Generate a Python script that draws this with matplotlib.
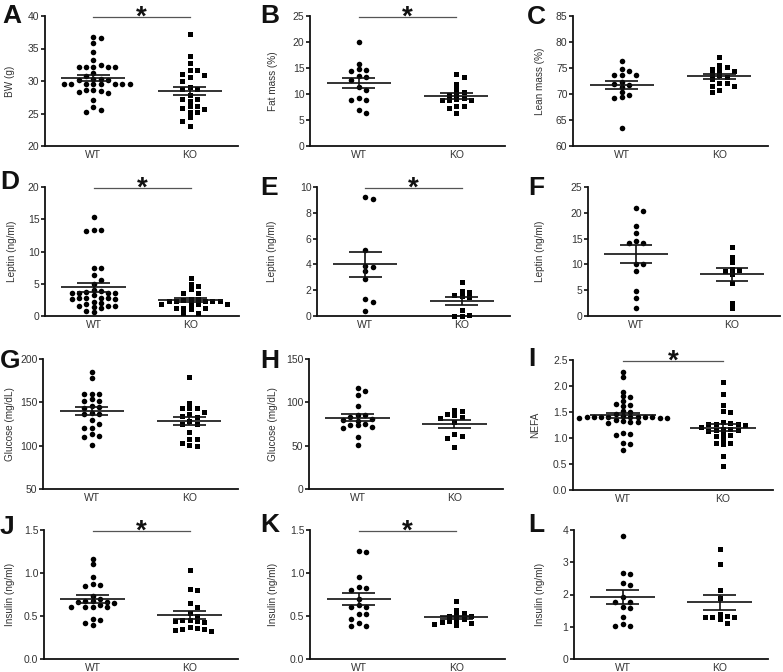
import matplotlib
matplotlib.use('Agg')
import matplotlib.pyplot as plt
from matplotlib.ticker import FormatStrFormatter
from matplotlib.transforms import blended_transform_factory
import numpy as np

plt.rcParams['font.family'] = ['Liberation Sans', 'DejaVu Sans']

groups = ['WT', 'KO']

# A - body weight (g)
bw_wt = [36.6, 36.7, 35.9, 34.5, 33.2, 32.5, 32.2, 32.1, 32.2, 32.1, 32.2, 31.3, 30.8,
         30.3, 30.2, 30.3, 30.1, 29.5, 29.5, 29.5, 29.5, 29.5, 29.5, 29.5, 29.5,
         28.6, 28.5, 28.6, 28.3, 28.2, 27.1, 26.0, 25.5, 25.3]
bw_ko = [37.2, 33.8, 32.7, 31.7, 31.7, 31.1, 31.0, 30.6, 30.0, 29.1, 28.8, 28.7, 27.8,
         27.3, 27.3, 26.9, 26.2, 26.1, 25.9, 25.7, 25.3, 25.2, 24.4, 23.8, 23.1]
# B - fat mass (%)
fat_wt = [20.0, 15.7, 14.8, 14.7, 14.5, 13.4, 13.3, 12.6, 11.3, 10.8, 9.2, 8.9, 8.8, 7.0, 6.4]
fat_ko = [13.9, 13.2, 12.0, 11.0, 10.4, 10.0, 9.8, 9.3, 9.0, 8.9, 8.8, 8.8, 7.7, 7.6, 7.3, 6.3]
# C - lean mass (%)
lean_wt = [76.4, 74.8, 74.4, 73.6, 73.6, 73.6, 72.3, 72.0, 71.7, 71.4, 70.4, 69.9, 69.4, 69.3, 63.5]
lean_ko = [77.2, 75.6, 75.2, 74.9, 74.6, 74.4, 73.8, 73.6, 73.2, 72.9, 72.2, 72.2,
           71.6, 71.5, 70.7, 70.4]
# D - leptin (ng/ml)
lepd_wt = [15.3, 13.4, 13.2, 13.4, 7.5, 7.4, 6.3, 5.6, 4.9, 4.0, 3.8, 3.7, 3.6, 3.6, 3.6,
           3.5, 3.2, 2.8, 2.8, 2.8, 2.8, 2.7, 2.7, 2.2, 2.0, 1.9, 1.6, 1.5, 1.5, 1.4, 1.2, 0.7, 0.6]
lepd_ko = [5.9, 5.0, 4.6, 4.2, 3.5, 3.5, 2.7, 2.6, 2.5, 2.4, 2.4, 2.4, 2.3, 2.3, 1.9, 1.9,
           1.9, 1.8, 1.2, 1.2, 1.1, 1.2, 0.5, 0.4]
# E - leptin (ng/ml)
lepe_wt = [9.2, 9.05, 5.1, 3.8, 3.9, 3.5, 2.9, 1.3, 1.05, 0.4]
lepe_ko = [2.6, 1.85, 1.95, 1.55, 1.45, 1.6, 0.45, 0.1, 0.03, 0.03]
# F - leptin (ng/ml)
lepf_wt = [21.0, 20.4, 17.4, 16.1, 14.1, 14.1, 14.5, 10.1, 10.1, 8.7, 4.8, 3.4, 1.5]
lepf_ko = [13.3, 11.4, 10.5, 9.0, 9.2, 8.1, 8.7, 6.3, 2.5, 1.5]
# G - glucose (mg/dL)
glug_wt = [185, 178, 160, 160, 160, 154, 151, 151, 146, 145, 143, 138, 137, 136, 130,
           125, 120, 120, 113, 111, 110, 101]
glug_ko = [179, 149, 144, 143, 143, 139, 136, 134, 133, 128, 125, 125, 116, 108, 108, 103, 101, 100]
# H - glucose (mg/dL)
gluh_wt = [117, 113.5, 108, 95.5, 85, 85, 83, 81, 80, 79, 75, 74, 73.5, 71, 70, 60, 51]
gluh_ko = [91.5, 89.6, 87, 85.8, 82.7, 82, 77, 63.5, 61.5, 59, 48.5]
# I - NEFA
nefa_wt = [2.26, 2.17, 1.89, 1.80, 1.79, 1.71, 1.65, 1.63, 1.62, 1.52, 1.50, 1.46,
           1.42, 1.41, 1.40, 1.40, 1.40, 1.39, 1.41, 1.40, 1.39, 1.40, 1.41, 1.39,
           1.35, 1.33, 1.30, 1.30, 1.28, 1.10, 1.08, 1.06, 0.90, 0.88, 0.77]
nefa_ko = [2.08, 1.85, 1.63, 1.52, 1.50, 1.30, 1.28, 1.27, 1.27, 1.26, 1.25, 1.22, 1.18,
           1.17, 1.16, 1.15, 1.14, 1.07, 1.05, 1.04, 0.98, 0.91, 0.90, 0.88, 0.65, 0.46]
# J - insulin (ng/ml)
insj_wt = [1.16, 1.10, 0.95, 0.87, 0.86, 0.85, 0.73, 0.70, 0.68, 0.67, 0.66, 0.66, 0.65,
           0.63, 0.61, 0.61, 0.61, 0.60, 0.47, 0.45, 0.42, 0.40]
insj_ko = [1.03, 0.81, 0.80, 0.65, 0.61, 0.53, 0.50, 0.45, 0.45, 0.44, 0.44, 0.43,
           0.37, 0.36, 0.35, 0.35, 0.34, 0.32]
# K - insulin (ng/ml)
insk_wt = [1.26, 1.24, 0.95, 0.84, 0.83, 0.80, 0.70, 0.63, 0.61, 0.60, 0.52, 0.52, 0.47, 0.42, 0.38, 0.38]
insk_ko = [0.68, 0.57, 0.53, 0.51, 0.50, 0.50, 0.46, 0.45, 0.44, 0.43, 0.42, 0.41, 0.39]
# L - insulin (ng/ml)
insl_wt = [3.8, 2.68, 2.64, 2.37, 2.30, 1.91, 1.78, 1.78, 1.60, 1.57, 1.31, 1.10, 1.03, 1.03]
insl_ko = [3.4, 2.94, 2.14, 1.90, 1.40, 1.32, 1.31, 1.30, 1.30, 1.24, 1.13]

W, H = 783, 672
fig = plt.figure(figsize=(W / 100, H / 100), dpi=100)


def swarm_x(ax, x0, vals, step=7.3, h=4.6):
    # simple beeswarm laid out in pixels, top point first, kept balanced left/right
    to_px = ax.transData.transform
    ys = to_px(np.column_stack([np.full(len(vals), x0), vals]))[:, 1]
    ppu = to_px((1, 0))[0] - to_px((0, 0))[0]
    offs = np.zeros(len(vals))
    placed = []
    for i in np.argsort(-ys):
        near = [px for px, py in placed if abs(ys[i] - py) < 2 * h]
        lean = sum(near)
        k = 0
        hit = None
        while hit is None:
            if k == 0:
                cands = [0.0]
            elif lean > 0:
                cands = [-k * step / 2, k * step / 2]
            else:
                cands = [k * step / 2, -k * step / 2]
            for c in cands:
                if all(abs(c - px) >= step * 0.98 or abs(ys[i] - py) >= h for px, py in placed):
                    hit = c
                    break
            k += 1
        offs[i] = hit
        placed.append((hit, ys[i]))
    return x0 + offs / ppu


# letter, wt, ko, ylabel, ylim, tick step, fmt, star, box(l,t,r,b px), letter pos, ylabel offset
panels = [
    ('A', bw_wt, bw_ko, 'BW (g)', (20, 40), 5, '%d', True, (45, 16, 238, 146), (2, 4), 30),
    ('B', fat_wt, fat_ko, 'Fat mass (%)', (0, 25), 5, '%d', True, (310, 16, 505, 146), (260, 4), 32),
    ('C', lean_wt, lean_ko, 'Lean mass (%)', (60, 85), 5, '%d', False, (573, 16, 768, 146), (527, 5), 28),
    ('D', lepd_wt, lepd_ko, 'Leptin (ng/ml)', (0, 20), 5, '%d', True, (45, 187, 239, 316), (0, 170), 28),
    ('E', lepe_wt, lepe_ko, 'Leptin (ng/ml)', (0, 10), 2, '%d', True, (317, 187, 510, 316), (260, 176), 40),
    ('F', lepf_wt, lepf_ko, 'Leptin (ng/ml)', (0, 25), 5, '%d', False, (588, 187, 780, 316), (528, 176), 43),
    ('G', glug_wt, glug_ko, 'Glucose (mg/dL)', (50, 200), 50, '%d', False, (43, 359, 238, 489), (0, 349), 28),
    ('H', gluh_wt, gluh_ko, 'Glucose (mg/dL)', (0, 150), 50, '%d', False, (309, 359, 503, 489), (260, 349), 31),
    ('I', nefa_wt, nefa_ko, 'NEFA', (0, 2.5), 0.5, '%.1f', True, (573, 360, 773, 490), (528, 347), 33),
    ('J', insj_wt, insj_ko, 'Insulin (ng/ml)', (0, 1.5), 0.5, '%.1f', True, (44, 530, 238, 659), (0, 515), 29),
    ('K', insk_wt, insk_ko, 'Insulin (ng/ml)', (0, 1.5), 0.5, '%.1f', True, (310, 530, 505, 659), (260, 513), 32),
    ('L', insl_wt, insl_ko, 'Insulin (ng/ml)', (0, 4), 1, '%d', False, (574, 530, 768, 659), (528, 513), 29),
]

ink = '#111111'

for letter, wt, ko, ylab, (y0, y1), tstep, fmt, star, box, lpos, loff in panels:
    l, t, r, b = box
    ax = fig.add_axes([l / W, 1 - b / H, (r - l) / W, (b - t) / H])
    ax.set_xlim(0.5, 2.5)
    ax.set_ylim(y0, y1)
    ax.set_yticks(np.arange(y0, y1 + tstep / 2, tstep))
    ax.yaxis.set_major_formatter(FormatStrFormatter(fmt))
    ax.set_xticks([1, 2])
    ax.set_xticklabels(groups)
    for s in ['top', 'right']:
        ax.spines[s].set_visible(False)
    for s in ['left', 'bottom']:
        ax.spines[s].set_linewidth(1.3)
        ax.spines[s].set_color(ink)
    ax.tick_params(axis='y', length=3, width=1.2, pad=1, labelsize=7.5, labelcolor='#333333', color=ink)
    ax.tick_params(axis='x', length=0, pad=2.6, labelsize=7.5, labelcolor='#333333')
    ax.set_ylabel(ylab, fontsize=7.2, color='#333333')
    ax.yaxis.set_label_coords(-loff / (r - l), 0.5)

    for pos, vals, mk, ms in [(1, wt, 'o', 4.0), (2, ko, 's', 3.6)]:
        vals = np.asarray(vals, dtype=float)
        xs = swarm_x(ax, pos, vals)
        ax.plot(xs, vals, ls='none', marker=mk, ms=ms, mew=0, color='k', clip_on=False, zorder=3)
        m = vals.mean()
        se = vals.std(ddof=1) / np.sqrt(len(vals))
        ax.hlines(m, pos - 0.33, pos + 0.33, color=ink, lw=1.2, zorder=4)
        ax.hlines([m - se, m + se], pos - 0.17, pos + 0.17, color=ink, lw=1.2, zorder=4)
        ax.vlines(pos, m - se, m + se, color=ink, lw=1.2, zorder=4)

    if star:
        trans = blended_transform_factory(ax.transData, ax.transAxes)
        ax.plot([1, 2], [0.995, 0.995], color='#555555', lw=0.9, transform=trans, clip_on=False)
        ax.annotate('*', xy=(1.5, 0.995), xycoords=trans, xytext=(0, -6), textcoords='offset points',
                    ha='center', va='baseline', fontsize=20, fontweight='bold', color=ink)

    fig.text(lpos[0] / W, 1 - lpos[1] / H, letter, fontsize=19, fontweight='bold',
             ha='left', va='top', color=ink)

fig.savefig('out.png', dpi=100)
